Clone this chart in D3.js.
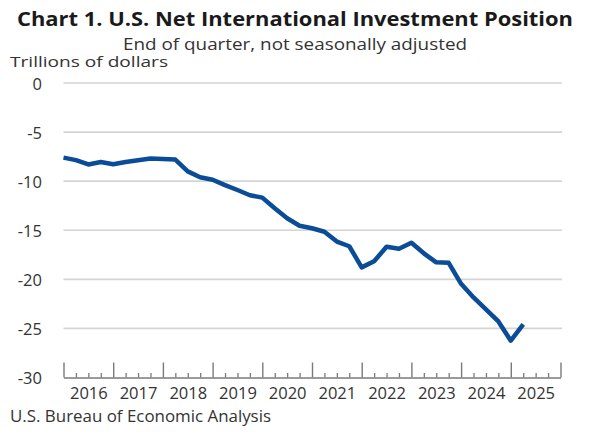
<!DOCTYPE html>
<html>
<head>
<meta charset="utf-8">
<script src="https://cdn.jsdelivr.net/npm/d3@7"></script>
<style>
  html, body { margin: 0; padding: 0; background: #fff; }
  svg { display: block; }
  text { font-family: "Open Sans", "Noto Sans", sans-serif; fill: #333; }
</style>
</head>
<body>
<svg id="chart" width="592" height="437"></svg>
<script>
// ---- data ----
const quarters = ["2015Q4",
  "2016Q1","2016Q2","2016Q3","2016Q4",
  "2017Q1","2017Q2","2017Q3","2017Q4",
  "2018Q1","2018Q2","2018Q3","2018Q4",
  "2019Q1","2019Q2","2019Q3","2019Q4",
  "2020Q1","2020Q2","2020Q3","2020Q4",
  "2021Q1","2021Q2","2021Q3","2021Q4",
  "2022Q1","2022Q2","2022Q3","2022Q4",
  "2023Q1","2023Q2","2023Q3","2023Q4",
  "2024Q1","2024Q2","2024Q3","2024Q4",
  "2025Q1"];
const niip = [-7.6,
  -7.86, -8.3, -8.05, -8.27,
  -8.05, -7.86, -7.7, -7.75,
  -7.8, -9.0, -9.6, -9.85,
  -10.4, -10.9, -11.43, -11.68,
  -12.76, -13.78, -14.54, -14.8,
  -15.15, -16.15, -16.63, -18.78,
  -18.16, -16.68, -16.89, -16.28,
  -17.35, -18.27, -18.32, -20.46,
  -21.84, -23.06, -24.29, -26.25,
  -24.6];
const yTicks = [0, -5, -10, -15, -20, -25, -30];
const yearLabels = ["2016","2017","2018","2019","2020","2021","2022","2023","2024","2025"];

const title = "Chart 1. U.S. Net International Investment Position";
const subtitle = "End of quarter, not seasonally adjusted";
const unitLabel = "Trillions of dollars";
const source = "U.S. Bureau of Economic Analysis";

// ---- layout ----
const svg = d3.select("#chart");
const plotL = 63.5, plotR = 560.5, plotT = 83, plotB = 377.5;

// quarter-end position in fractional years (Q4 end = next year start)
const qPos = s => +s.slice(0,4) + (+s.slice(5)) / 4;

const x = d3.scaleLinear().domain([2016, 2026]).range([plotL, plotR]);
const y = d3.scaleLinear().domain([-30, 0]).range([plotB, plotT]);

// titles
svg.append("text").attr("x", 17).attr("y", 26)
  .attr("textLength", 556).attr("lengthAdjust", "spacingAndGlyphs")
  .style("font-size", "20px").style("font-weight", "700").style("fill", "#1a1a1a").text(title);
svg.append("text").attr("x", 123).attr("y", 50)
  .attr("textLength", 344).attr("lengthAdjust", "spacingAndGlyphs")
  .style("font-size", "16.5px").text(subtitle);
svg.append("text").attr("x", 10).attr("y", 67)
  .attr("textLength", 158).attr("lengthAdjust", "spacingAndGlyphs")
  .style("font-size", "15px").text(unitLabel);

// gridlines (except bottom)
svg.append("g").selectAll("line").data(yTicks.filter(d => d !== -30)).join("line")
  .attr("x1", plotL).attr("x2", 562)
  .attr("y1", d => y(d)).attr("y2", d => y(d))
  .attr("stroke", "#d4d4d4").attr("stroke-width", 1.6);

// y axis labels
const yAxis = d3.axisLeft(y).tickValues(yTicks).tickSize(0).tickPadding(0).tickFormat(d3.format("d"));
const gy = svg.append("g").attr("transform", `translate(42,0)`).call(yAxis);
gy.select(".domain").remove();
gy.selectAll("text").style("font-size", "16.5px").style("fill", "#333")
  .attr("dy", "0.38em").text(d => d === 0 ? "0" : "-" + Math.abs(d));

// x axis: minor ticks (quarters)
const minorVals = d3.range(2016, 2026.001, 0.25).filter(v => Math.abs(v - Math.round(v)) > 1e-6);
const gMinor = svg.append("g").attr("transform", `translate(0,${plotB})`)
  .call(d3.axisBottom(x).tickValues(minorVals).tickSizeInner(-4.5).tickSizeOuter(0).tickFormat(""));
gMinor.select(".domain").remove();
gMinor.selectAll("line").attr("stroke", "#7a7a7a").attr("stroke-width", 1.3);

// x axis: major ticks (years) with domain
const majorVals = d3.range(2016, 2027, 1);
const gMajor = svg.append("g").attr("transform", `translate(0,${plotB})`)
  .call(d3.axisBottom(x).tickValues(majorVals).tickSizeInner(-15).tickSizeOuter(0).tickFormat(""));
gMajor.select(".domain").attr("stroke", "#7a7a7a").attr("stroke-width", 1.6);
gMajor.selectAll("line").attr("stroke", "#7a7a7a").attr("stroke-width", 1.4);

// x axis labels (year centres)
const gLab = svg.append("g").attr("transform", `translate(0,${plotB})`)
  .call(d3.axisBottom(x).tickValues(yearLabels.map(s => +s + 0.5)).tickSize(0).tickPadding(10)
    .tickFormat((d, i) => yearLabels[i]));
gLab.select(".domain").remove();
gLab.selectAll("text").style("font-size", "16.5px").style("fill", "#333");

// line
const line = d3.line().x((d, i) => x(qPos(quarters[i]))).y(d => y(d));
svg.append("path").datum(niip).attr("d", line)
  .attr("fill", "none").attr("stroke", "#0a4c97").attr("stroke-width", 4.5)
  .attr("stroke-linejoin", "round").attr("stroke-linecap", "butt");

// source
svg.append("text").attr("x", 10).attr("y", 422)
  .attr("textLength", 261).attr("lengthAdjust", "spacingAndGlyphs")
  .style("font-size", "16px").text(source);
</script>
</body>
</html>
